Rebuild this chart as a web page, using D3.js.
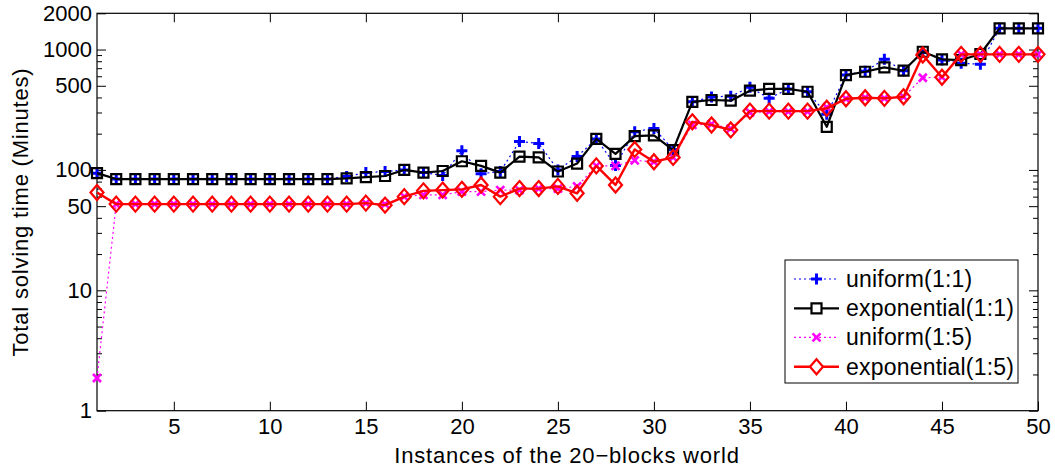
<!DOCTYPE html>
<html>
<head>
<meta charset="utf-8">
<script src="https://cdn.jsdelivr.net/npm/d3@7"></script>
<style>
  html, body { margin: 0; padding: 0; background: #fff; }
  svg { display: block; font-family: "Liberation Sans", Arial, Helvetica, sans-serif; }
</style>
</head>
<body>
<svg id="chart" width="1055" height="467"></svg>
<script>
// ---------- data ----------
const instances = d3.range(1, 51);
const uniform11 = [94, 84, 84, 84, 84, 84, 84, 84, 84, 84, 84, 84, 84, 88, 95,
  97, 100, 95, 90, 144, 93, 97, 172, 166, 100, 129, 181, 109, 208, 221,
  148, 368, 404, 410, 486, 393, 470, 446, 290, 614, 660, 829, 667, 950, 820,
  768, 756, 1500, 1500, 1500];
const exponential11 = [94, 84, 84, 84, 84, 84, 84, 84, 84, 84, 84, 84, 84, 85, 87,
  89, 100, 95, 98, 118, 108, 95, 129, 127, 97, 113, 181, 136, 191, 194,
  146, 368, 381, 376, 455, 472, 472, 446, 228, 614, 654, 711, 667, 959, 829,
  818, 918, 1500, 1500, 1500];
const uniform15 = [1.87, 52, 52, 52, 52, 52, 52, 52, 52, 52, 52, 52, 52, 52, 53,
  52, 60, 62, 62, 66, 66, 68, 68, 70, 70, 73, 108, 108, 120, 117,
  127, 237, 240, 220, 300, 305, 305, 305, 330, 390, 398, 393, 405, 583, 590,
  912, 912, 912, 912, 912];
const exponential15 = [65, 52, 52, 52, 52, 52, 52, 52, 52, 52, 52, 52, 52, 52, 53,
  51, 60, 67, 68, 69, 75, 60, 70, 70, 73, 64, 108, 75, 148, 117,
  127, 251, 236, 215, 308, 308, 308, 308, 325, 390, 398, 393, 405, 900, 588,
  912, 912, 912, 912, 912];
const seriesNames = ["uniform(1:1)", "exponential(1:1)", "uniform(1:5)", "exponential(1:5)"];
const xTickValues = [5, 10, 15, 20, 25, 30, 35, 40, 45, 50];
const yTickValues = [1, 10, 50, 100, 500, 1000, 2000];
const xLabel = "Instances of the 20\u2212blocks world";
const yLabel = "Total solving time (Minutes)";

// ---------- layout ----------
const svg = d3.select("#chart");
const L = 97, R = 1038, T = 13.3, B = 410.7;
const x = d3.scaleLinear().domain([1, 50]).range([L, R]);
const y = d3.scaleLog().domain([1, 2000]).range([B, T]);

// minor ticks (2..9 per decade, excluding labelled ones)
const yMinor = [];
[1, 10, 100, 1000].forEach(d => { for (let k = 2; k <= 9; k++) { const v = d * k; if (v <= 2000 && !yTickValues.includes(v)) yMinor.push(v); } });

const styleAxis = g => {
  g.select(".domain").remove();
  g.selectAll(".tick line").attr("stroke", "#000").attr("stroke-width", 1);
  g.selectAll(".tick text").attr("fill", "#000").style("font-size", "22px").style("font-family", "Liberation Sans, Arial, sans-serif");
};

// bottom axis (ticks inward)
svg.append("g").attr("transform", `translate(0,${B})`)
  .call(d3.axisBottom(x).tickValues(xTickValues).tickSize(-9).tickPadding(8).tickFormat(d3.format("d")))
  .call(styleAxis);
// top axis
svg.append("g").attr("transform", `translate(0,${T})`)
  .call(d3.axisTop(x).tickValues(xTickValues).tickSize(-9).tickFormat(""))
  .call(styleAxis);
// left axis major
svg.append("g").attr("transform", `translate(${L},0)`)
  .call(d3.axisLeft(y).tickValues(yTickValues).tickSize(-9).tickPadding(5).tickFormat(d3.format("d")))
  .call(styleAxis);
svg.append("g").attr("transform", `translate(${L},0)`)
  .call(d3.axisLeft(y).tickValues(yMinor).tickSize(-5).tickFormat(""))
  .call(styleAxis);
// right axis
svg.append("g").attr("transform", `translate(${R},0)`)
  .call(d3.axisRight(y).tickValues(yTickValues).tickSize(-9).tickFormat(""))
  .call(styleAxis);
svg.append("g").attr("transform", `translate(${R},0)`)
  .call(d3.axisRight(y).tickValues(yMinor).tickSize(-5).tickFormat(""))
  .call(styleAxis);

// frame
svg.append("rect").attr("x", L).attr("y", T).attr("width", R - L).attr("height", B - T)
  .attr("fill", "none").attr("stroke", "#000").attr("stroke-width", 1.2);

// axis labels
svg.append("text").attr("x", 567).attr("y", 463).attr("text-anchor", "middle")
  .style("font-size", "22px").style("letter-spacing", "0.8px").text(xLabel);
svg.append("text").attr("transform", `translate(28,${(T + B) / 2}) rotate(-90)`).attr("text-anchor", "middle")
  .style("font-size", "22px").style("letter-spacing", "0.8px").text(yLabel);

// ---------- markers ----------
function markerPath(type, cx, cy) {
  switch (type) {
    case "plus": { const s = 5.5; return `M${cx - s},${cy}H${cx + s}M${cx},${cy - s}V${cy + s}`; }
    case "square": { const s = 5; return `M${cx - s},${cy - s}H${cx + s}V${cy + s}H${cx - s}Z`; }
    case "x": { const s = 4; return `M${cx - s},${cy - s}L${cx + s},${cy + s}M${cx - s},${cy + s}L${cx + s},${cy - s}`; }
    case "diamond": { const w = 6.5, h = 7.5; return `M${cx},${cy - h}L${cx + w},${cy}L${cx},${cy + h}L${cx - w},${cy}Z`; }
  }
}

const series = [
  { name: seriesNames[0], values: uniform11, color: "#0000ff", width: 1.2, dash: "2,3", marker: "plus", mw: 3 },
  { name: seriesNames[1], values: exponential11, color: "#000000", width: 2.2, dash: null, marker: "square", mw: 2.2 },
  { name: seriesNames[2], values: uniform15, color: "#ff00ff", width: 1.2, dash: "2,3", marker: "x", mw: 2.6 },
  { name: seriesNames[3], values: exponential15, color: "#ff0000", width: 2.4, dash: null, marker: "diamond", mw: 2.2 }
];

const line = d3.line().x(d => x(d[0])).y(d => y(d[1]));

series.forEach(s => {
  const pts = instances.map((xi, i) => [xi, s.values[i]]);
  svg.append("path").attr("d", line(pts)).attr("fill", "none")
    .attr("stroke", s.color).attr("stroke-width", s.width)
    .attr("stroke-dasharray", s.dash).attr("stroke-linejoin", "round");
  svg.append("g").selectAll("path").data(pts).join("path")
    .attr("d", d => markerPath(s.marker, x(d[0]), y(d[1])))
    .attr("fill", "none").attr("stroke", s.color).attr("stroke-width", s.mw);
});

// ---------- legend ----------
const lg = svg.append("g");
lg.append("rect").attr("x", 785).attr("y", 260).attr("width", 233).attr("height", 123)
  .attr("fill", "#fff").attr("stroke", "#000").attr("stroke-width", 1);
const legendY = [279, 308.3, 337.3, 366.7];
series.forEach((s, i) => {
  const ly = legendY[i];
  lg.append("line").attr("x1", 794).attr("x2", 839).attr("y1", ly).attr("y2", ly)
    .attr("stroke", s.color).attr("stroke-width", s.width).attr("stroke-dasharray", s.dash);
  lg.append("path").attr("d", markerPath(s.marker, 816.5, ly))
    .attr("fill", s.marker === "square" || s.marker === "diamond" ? "#fff" : "none")
    .attr("stroke", s.color).attr("stroke-width", s.mw);
  lg.append("text").attr("x", 846).attr("y", ly).attr("dy", "0.35em")
    .style("font-size", "23px").style("letter-spacing", "0.2px").text(s.name);
});
</script>
</body>
</html>
